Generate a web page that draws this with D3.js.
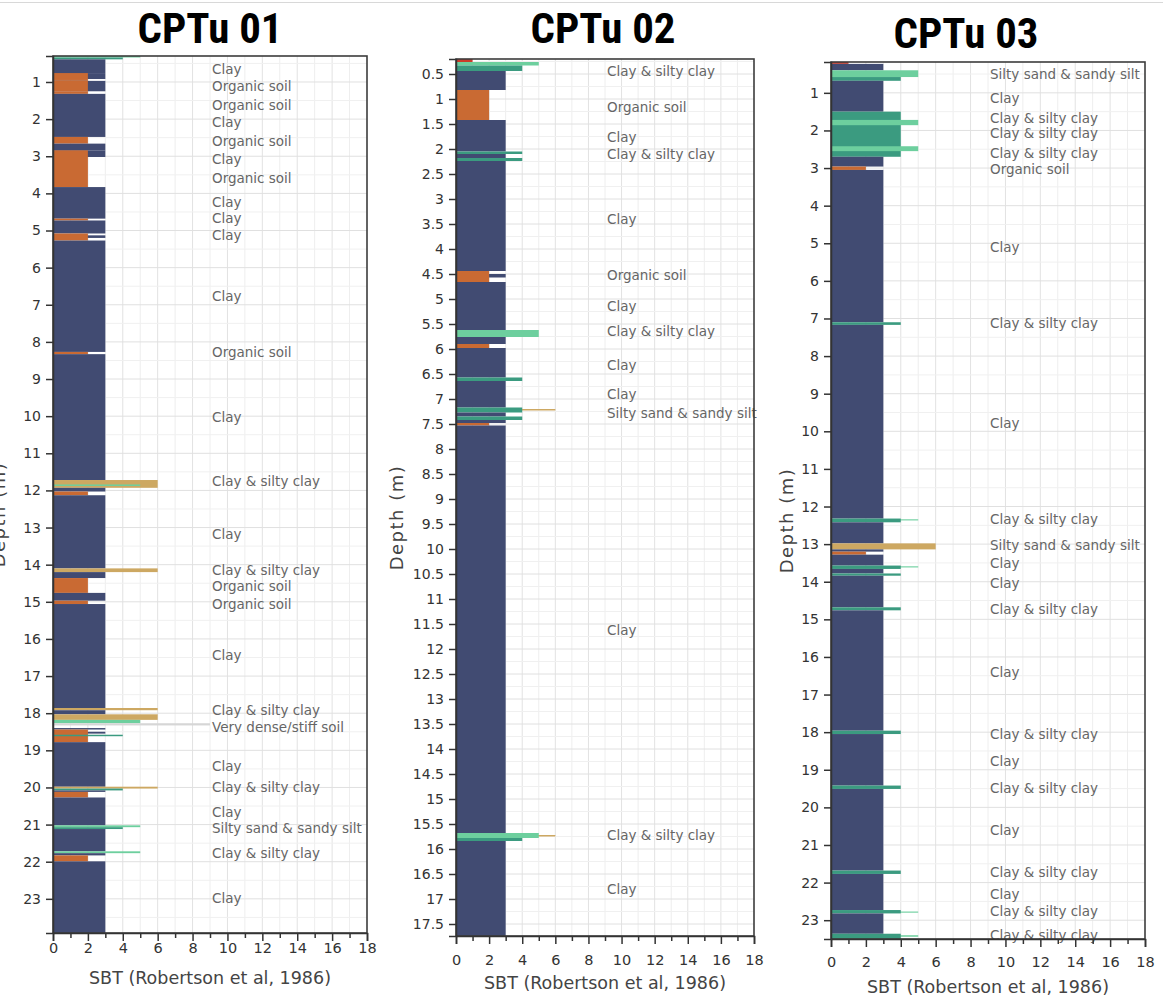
<!DOCTYPE html>
<html>
<head>
<meta charset="utf-8">
<script src="https://cdn.jsdelivr.net/npm/d3@7"></script>
<style>
  html, body { margin: 0; padding: 0; background: #fff; }
  svg { display: block; }
</style>
</head>
<body>
<svg id="chart" width="1163" height="998"></svg>
<script>
// ---- Data --------------------------------------------------------------
// Soil behaviour type profiles: each layer is [top depth (m), bottom depth (m), SBT zone].
// Layers are painted in order, so a later layer sits over an earlier one.
const titles = ["CPTu 01", "CPTu 02", "CPTu 03"];

const sbtTicks = [0, 2, 4, 6, 8, 10, 12, 14, 16, 18];
const depthTicks1 = [1, 2, 3, 4, 5, 6, 7, 8, 9, 10, 11, 12, 13, 14, 15, 16, 17, 18, 19, 20, 21, 22, 23];
const depthTicks2 = [0.5, 1, 1.5, 2, 2.5, 3, 3.5, 4, 4.5, 5, 5.5, 6, 6.5, 7, 7.5, 8, 8.5, 9, 9.5, 10,
                     10.5, 11, 11.5, 12, 12.5, 13, 13.5, 14, 14.5, 15, 15.5, 16, 16.5, 17, 17.5];
const depthTicks3 = [1, 2, 3, 4, 5, 6, 7, 8, 9, 10, 11, 12, 13, 14, 15, 16, 17, 18, 19, 20, 21, 22, 23];

const depthRange1 = [0.30, 23.92];
const depthRange2 = [0.20, 17.74];
const depthRange3 = [0.18, 23.50];

const layers1 = [
  [0.30, 0.34, 5], [0.34, 0.39, 4], [0.39, 0.76, 3],
  [0.76, 0.92, 3], [0.76, 0.92, 2], [0.92, 0.97, 2],
  [0.97, 1.25, 3], [0.97, 1.25, 2], [1.25, 1.32, 2],
  [1.32, 2.48, 3], [2.48, 2.66, 2], [2.66, 2.84, 3],
  [2.84, 3.02, 3], [2.84, 3.83, 2],
  [3.83, 4.68, 3], [4.68, 4.73, 2], [4.73, 5.08, 3],
  [5.13, 5.20, 3], [5.08, 5.27, 2],
  [5.27, 8.27, 3], [8.27, 8.33, 2], [8.33, 11.72, 3],
  [11.72, 11.93, 6], [11.84, 11.88, 5],
  [11.93, 12.03, 3], [12.03, 12.13, 2], [12.13, 14.10, 3],
  [14.10, 14.20, 6], [14.20, 14.36, 3], [14.36, 14.76, 2],
  [14.76, 14.97, 3], [14.97, 15.06, 2], [15.06, 17.86, 3],
  [17.86, 17.92, 6], [17.92, 18.03, 3], [18.03, 18.18, 6],
  [18.18, 18.27, 5], [18.27, 18.33, 9], [18.40, 18.44, 3],
  [18.50, 18.55, 3], [18.44, 18.78, 2], [18.58, 18.62, 4],
  [18.78, 19.98, 3], [19.98, 20.03, 6], [20.03, 20.08, 4],
  [20.08, 20.12, 3], [20.12, 20.27, 2], [20.27, 21.02, 3],
  [21.02, 21.07, 5], [21.07, 21.12, 4], [21.12, 21.72, 3],
  [21.72, 21.77, 5], [21.77, 21.83, 3], [21.83, 21.99, 2],
  [21.99, 23.92, 3]
];

const layers2 = [
  [0.20, 0.26, 1], [0.26, 0.33, 5], [0.33, 0.44, 4],
  [0.44, 0.82, 3], [0.82, 1.42, 2], [1.42, 2.05, 3],
  [2.05, 2.10, 4], [2.10, 2.18, 3], [2.18, 2.24, 4],
  [2.24, 4.44, 3], [4.50, 4.57, 3], [4.44, 4.66, 2],
  [4.66, 5.62, 3], [5.62, 5.76, 5], [5.76, 5.90, 3],
  [5.90, 5.98, 2], [5.98, 6.57, 3], [6.57, 6.64, 4],
  [6.64, 7.17, 3], [7.20, 7.23, 6], [7.17, 7.27, 4],
  [7.27, 7.35, 3], [7.35, 7.42, 4], [7.42, 7.48, 3],
  [7.48, 7.53, 2], [7.53, 15.68, 3],
  [15.72, 15.75, 6], [15.68, 15.78, 5], [15.78, 15.84, 4],
  [15.84, 17.74, 3]
];

const layers3 = [
  [0.18, 0.23, 1], [0.23, 0.40, 3], [0.40, 0.58, 5],
  [0.58, 0.68, 4], [0.68, 1.50, 3],
  [1.50, 2.70, 4], [1.72, 1.86, 5], [2.42, 2.55, 5],
  [2.70, 2.96, 3], [2.96, 3.05, 2], [3.05, 7.10, 3],
  [7.10, 7.17, 4], [7.17, 12.32, 3],
  [12.34, 12.37, 5], [12.32, 12.42, 4], [12.42, 12.98, 3],
  [12.98, 13.14, 6], [13.14, 13.20, 3], [13.20, 13.28, 2],
  [13.28, 13.57, 3], [13.59, 13.62, 5], [13.57, 13.66, 4],
  [13.66, 13.78, 3], [13.78, 13.84, 4], [13.84, 14.68, 3],
  [14.68, 14.76, 4], [14.76, 17.96, 3], [17.96, 18.05, 4],
  [18.05, 19.42, 3], [19.42, 19.51, 4], [19.51, 21.68, 3],
  [21.68, 21.77, 4], [21.77, 22.73, 3],
  [22.77, 22.80, 5], [22.73, 22.82, 4], [22.82, 23.36, 3],
  [23.40, 23.44, 5], [23.36, 23.50, 4]
];

// Zone names written beside each profile: [depth (m), name]
const labels1 = [
  [0.67, "Clay"], [1.11, "Organic soil"], [1.62, "Organic soil"], [2.08, "Clay"],
  [2.59, "Organic soil"], [3.07, "Clay"], [3.58, "Organic soil"], [4.23, "Clay"],
  [4.66, "Clay"], [5.12, "Clay"], [6.77, "Clay"], [8.27, "Organic soil"],
  [10.03, "Clay"], [11.75, "Clay & silty clay"], [13.18, "Clay"],
  [14.15, "Clay & silty clay"], [14.58, "Organic soil"], [15.07, "Organic soil"],
  [16.45, "Clay"], [17.92, "Clay & silty clay"], [18.37, "Very dense/stiff soil"],
  [19.43, "Clay"], [20.00, "Clay & silty clay"], [20.67, "Clay"],
  [21.11, "Silty sand & sandy silt"], [21.78, "Clay & silty clay"], [22.99, "Clay"]
];

const labels2 = [
  [0.44, "Clay & silty clay"], [1.17, "Organic soil"], [1.77, "Clay"],
  [2.11, "Clay & silty clay"], [3.40, "Clay"], [4.52, "Organic soil"],
  [5.14, "Clay"], [5.64, "Clay & silty clay"], [6.32, "Clay"], [6.91, "Clay"],
  [7.29, "Silty sand & sandy silt"], [11.63, "Clay"],
  [15.72, "Clay & silty clay"], [16.80, "Clay"]
];

const labels3 = [
  [0.51, "Silty sand & sandy silt"], [1.15, "Clay"], [1.67, "Clay & silty clay"],
  [2.08, "Clay & silty clay"], [2.60, "Clay & silty clay"], [3.04, "Organic soil"],
  [5.11, "Clay"], [7.14, "Clay & silty clay"], [9.78, "Clay"],
  [12.35, "Clay & silty clay"], [13.03, "Silty sand & sandy silt"], [13.50, "Clay"],
  [14.05, "Clay"], [14.73, "Clay & silty clay"], [16.42, "Clay"],
  [18.06, "Clay & silty clay"], [18.78, "Clay"], [19.49, "Clay & silty clay"],
  [20.61, "Clay"], [21.72, "Clay & silty clay"], [22.32, "Clay"],
  [22.77, "Clay & silty clay"], [23.40, "Clay & silty clay"]
];

// SBT zone colours
const zoneColors = {
  1: "#cc3b2a",
  2: "#c96a33",
  3: "#414b72",
  4: "#3b9b80",
  5: "#6dcf9e",
  6: "#cda862",
  9: "#d6d6d6"
};

// ---- Layout ------------------------------------------------------------
const panels = [
  { title: titles[0], titleX: 210, titleY: 43, left: 53, right: 367, top: 56, bottom: 933,
    depth: depthRange1, ticks: depthTicks1, minorStep: 0.5, layers: layers1, labels: labels1,
    labelX: 212, depthLabelX: 5, tickLabelY: 948, axisTitleY: 978 },
  { title: titles[1], titleX: 603, titleY: 43, left: 456, right: 754, top: 59, bottom: 936,
    depth: depthRange2, ticks: depthTicks2, minorStep: 0.25, layers: layers2, labels: labels2,
    labelX: 607, depthLabelX: 403, tickLabelY: 960, axisTitleY: 983 },
  { title: titles[2], titleX: 966, titleY: 48, left: 831, right: 1145, top: 62, bottom: 939,
    depth: depthRange3, ticks: depthTicks3, minorStep: 0.5, layers: layers3, labels: labels3,
    labelX: 990, depthLabelX: 793, tickLabelY: 962, axisTitleY: 987 }
];

const svg = d3.select("#chart");

// faint rule along the very top of the page
svg.append("line")
  .attr("x1", 0).attr("x2", 1163).attr("y1", 2.5).attr("y2", 2.5)
  .attr("stroke", "#d8d8d8").attr("stroke-width", 1);

panels.forEach((p, i) => {
  const x = d3.scaleLinear().domain([0, 18]).range([p.left, p.right]);
  const y = d3.scaleLinear().domain(p.depth).range([p.top, p.bottom]);
  const g = svg.append("g");

  // title
  g.append("text")
    .attr("x", p.titleX).attr("y", p.titleY)
    .attr("text-anchor", "middle")
    .attr("font-family", "'Liberation Sans Narrow', 'Arial Narrow', 'Roboto Condensed', 'Liberation Sans', sans-serif")
    .attr("font-weight", "bold")
    .attr("font-size", 42)
    .attr("textLength", 145)
    .attr("lengthAdjust", "spacingAndGlyphs")
    .attr("fill", "#000")
    .text(p.title);

  // grid
  const grid = g.append("g");
  grid.selectAll("line.vx")
    .data(d3.range(1, 18))
    .join("line")
    .attr("x1", d => x(d)).attr("x2", d => x(d))
    .attr("y1", p.top).attr("y2", p.bottom)
    .attr("stroke", d => d % 2 === 0 ? "#e2e2e2" : "#eeeeee")
    .attr("stroke-width", 1);
  const minor = d3.range(Math.ceil(p.depth[0] / p.minorStep) * p.minorStep, p.depth[1], p.minorStep);
  grid.selectAll("line.hy")
    .data(minor)
    .join("line")
    .attr("x1", p.left).attr("x2", p.right)
    .attr("y1", d => y(d)).attr("y2", d => y(d))
    .attr("stroke", d => p.ticks.some(t => Math.abs(t - d) < 1e-6) ? "#e0e0e0" : "#f0f0f0")
    .attr("stroke-width", 1);

  // clip for the profile
  const clipId = "clip" + i;
  svg.append("clipPath").attr("id", clipId)
    .append("rect")
    .attr("x", p.left).attr("y", p.top)
    .attr("width", p.right - p.left).attr("height", p.bottom - p.top);

  // SBT bars
  g.append("g").attr("clip-path", `url(#${clipId})`)
    .selectAll("rect")
    .data(p.layers)
    .join("rect")
    .attr("x", x(0))
    .attr("y", d => y(d[0]))
    .attr("width", d => x(d[2]) - x(0))
    .attr("height", d => Math.max(1, y(d[1]) - y(d[0])))
    .attr("fill", d => zoneColors[d[2]]);

  // zone names
  g.append("g")
    .selectAll("text")
    .data(p.labels)
    .join("text")
    .attr("x", p.labelX)
    .attr("y", d => y(d[0]))
    .attr("dy", "0.35em")
    .attr("font-family", "'DejaVu Sans', Verdana, sans-serif")
    .attr("font-size", 13.5)
    .attr("fill", "#666")
    .text(d => d[1]);

  // frame
  g.append("rect")
    .attr("x", p.left).attr("y", p.top)
    .attr("width", p.right - p.left).attr("height", p.bottom - p.top)
    .attr("fill", "none").attr("stroke", "#3c3c3c").attr("stroke-width", 1.6);

  // depth axis
  const yAxis = d3.axisLeft(y).tickValues(p.ticks).tickSize(7).tickPadding(5)
    .tickFormat(d => String(d));
  const ya = g.append("g").attr("transform", `translate(${p.left},0)`).call(yAxis);
  ya.select(".domain").attr("stroke", "#333").attr("stroke-width", 1.5);
  ya.selectAll(".tick line").attr("stroke", "#333").attr("stroke-width", 1.5);
  ya.selectAll(".tick text")
    .attr("font-family", "'DejaVu Sans', Verdana, sans-serif")
    .attr("font-size", 14).attr("fill", "#333");

  // SBT axis: minor ticks every unit, labelled ticks every two
  const xMinor = d3.axisBottom(x).tickValues(d3.range(1, 18, 2)).tickSize(5).tickFormat("");
  const xm = g.append("g").attr("transform", `translate(0,${p.bottom})`).call(xMinor);
  xm.select(".domain").remove();
  xm.selectAll(".tick line").attr("stroke", "#333").attr("stroke-width", 1.5);

  const xAxis = d3.axisBottom(x).tickValues(sbtTicks).tickSize(8).tickFormat(d => String(d));
  const xa = g.append("g").attr("transform", `translate(0,${p.bottom})`).call(xAxis);
  xa.select(".domain").attr("stroke", "#333").attr("stroke-width", 1.6);
  xa.selectAll(".tick line").attr("stroke", "#333").attr("stroke-width", 1.5);
  xa.selectAll(".tick text")
    .attr("y", p.tickLabelY - p.bottom).attr("dy", "0.35em")
    .attr("font-family", "'DejaVu Sans', Verdana, sans-serif")
    .attr("font-size", 14.5).attr("fill", "#333");

  // axis titles
  g.append("text")
    .attr("x", (p.left + p.right) / 2).attr("y", p.axisTitleY)
    .attr("dy", "0.35em")
    .attr("text-anchor", "middle")
    .attr("font-family", "'DejaVu Sans', Verdana, sans-serif")
    .attr("font-size", 17.5).attr("fill", "#444")
    .text("SBT (Robertson et al, 1986)");

  g.append("text")
    .attr("transform", `translate(${p.depthLabelX},${(p.top + p.bottom) / 2 + 20}) rotate(-90)`)
    .attr("text-anchor", "middle")
    .attr("font-family", "'DejaVu Sans', Verdana, sans-serif")
    .attr("font-size", 18).attr("letter-spacing", 1.5).attr("fill", "#444")
    .text("Depth (m)");
});
</script>
</body>
</html>
